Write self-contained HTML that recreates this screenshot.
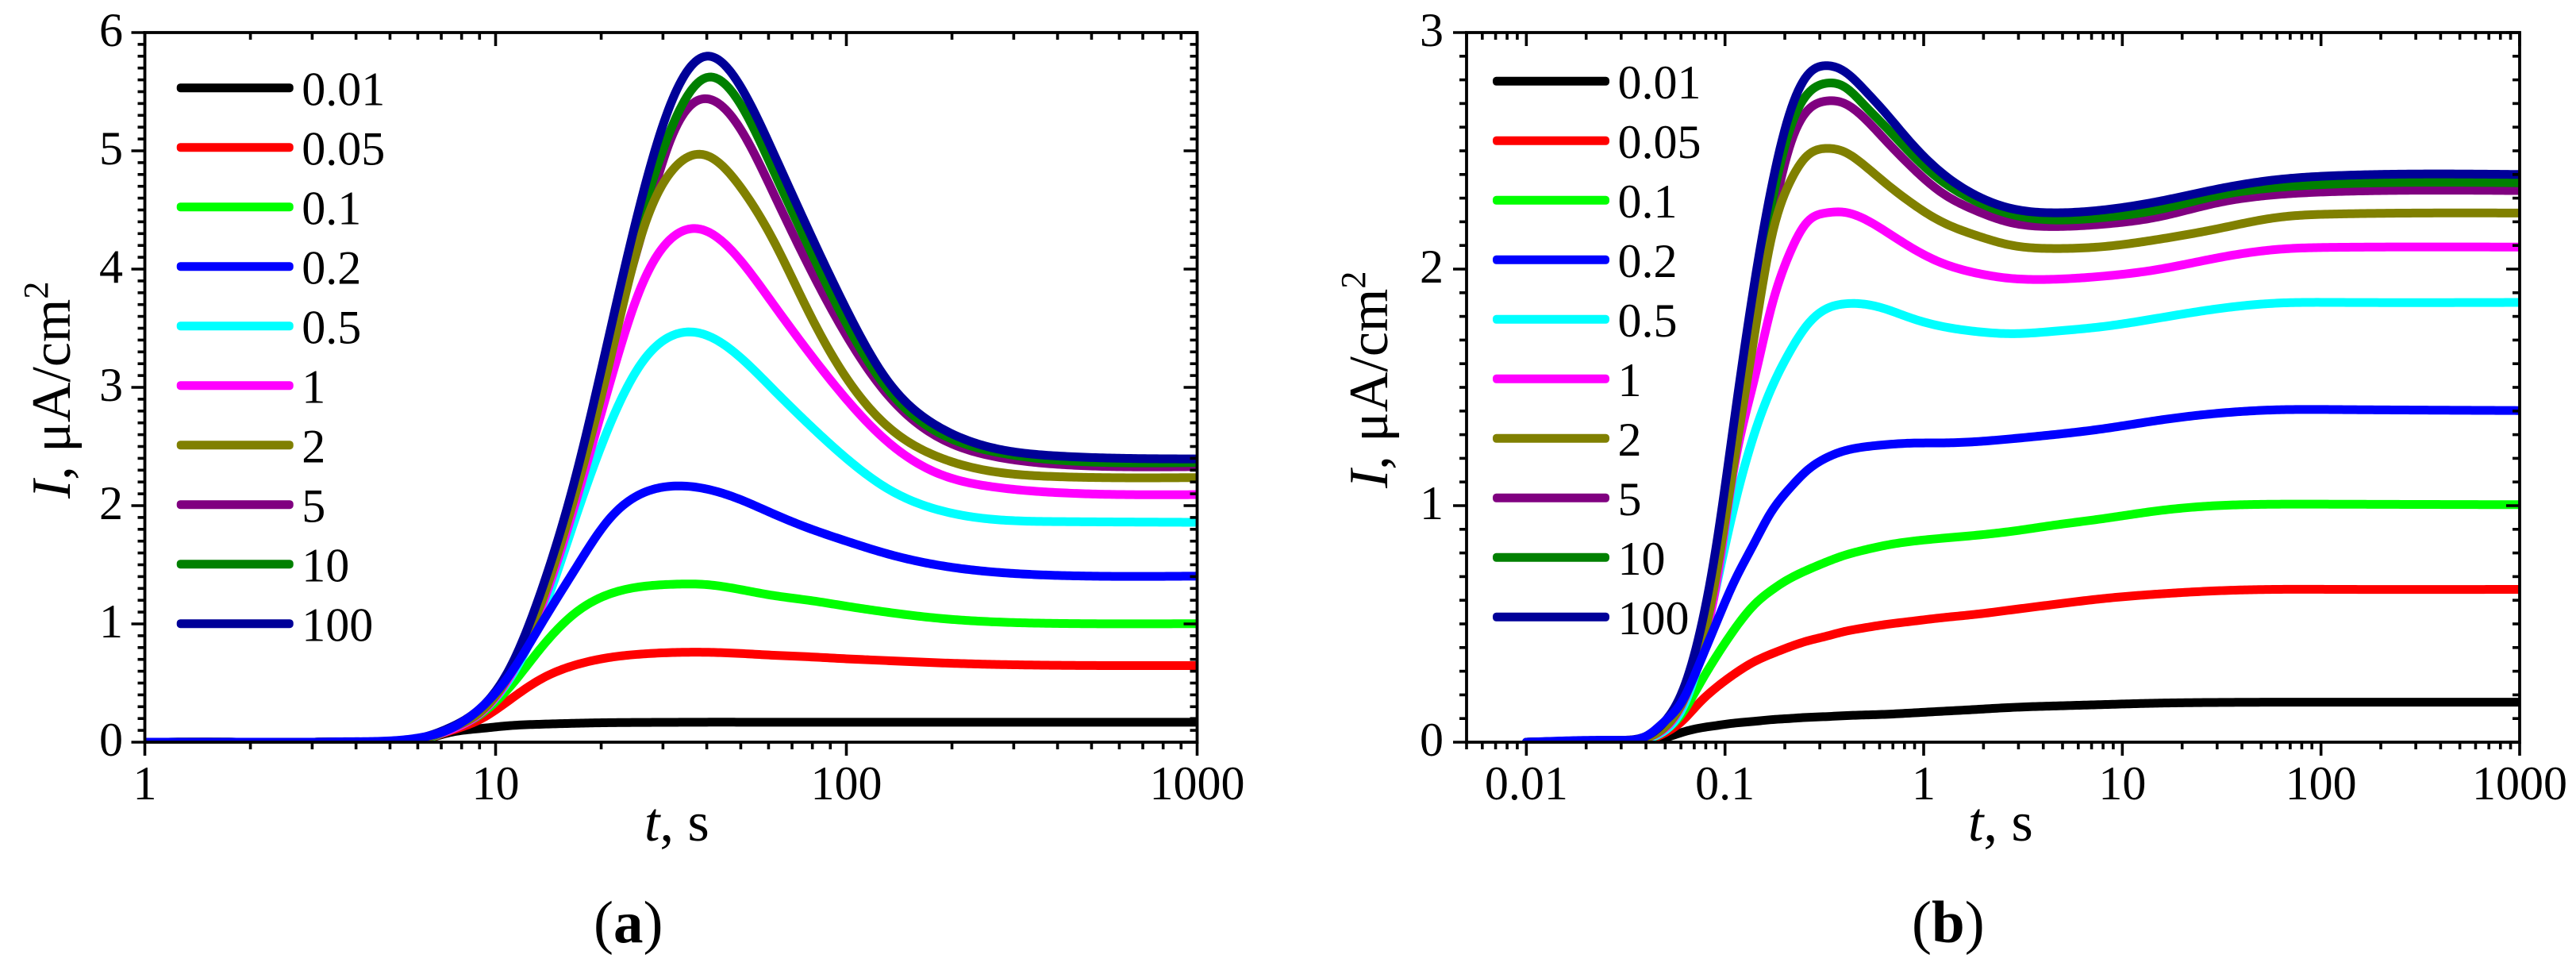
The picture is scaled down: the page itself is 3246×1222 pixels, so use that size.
<!DOCTYPE html>
<html lang="en">
<head>
<meta charset="utf-8">
<title>Current density transients</title>
<style>
html,body{margin:0;padding:0;background:#fff;}
svg{display:block;}
text{font-family:"Liberation Serif","Noto Serif CJK SC",serif;fill:#000;}
</style>
</head>
<body>
<svg id="figure" xmlns="http://www.w3.org/2000/svg" width="3246" height="1222" viewBox="0 0 3246 1222">
  <rect x="0" y="0" width="3246" height="1222" fill="#fff"/>
  <defs>
    <clipPath id="clip-a"><rect x="182.5" y="41" width="1326.5" height="894"/></clipPath>
    <clipPath id="clip-b"><rect x="1848" y="41" width="1327" height="894"/></clipPath>
  </defs>
  <g id="panel-a"></g>
  <g id="panel-b"></g>

  <text transform="translate(88,628) rotate(-90)" font-size="70"><tspan font-style="italic">I</tspan>, μA/cm<tspan font-size="44" dy="-28">2</tspan></text>
  <text x="812" y="1059" font-size="70"><tspan font-style="italic">t</tspan>, s</text>
  <text x="748" y="1187" font-size="75">(<tspan font-weight="bold">a</tspan>)</text>

  <text transform="translate(1748,615) rotate(-90)" font-size="70"><tspan font-style="italic">I</tspan>, μA/cm<tspan font-size="44" dy="-28">2</tspan></text>
  <text x="2480" y="1059" font-size="70"><tspan font-style="italic">t</tspan>, s</text>
  <text x="2409" y="1187" font-size="75">(<tspan font-weight="bold">b</tspan>)</text>
</svg>
<script>
// ---- shared legend ----
const legendLabels = ['0.01','0.05','0.1','0.2','0.5','1','2','5','10','100'];
const seriesColors = ['#000000','#ff0000','#00ff00','#0000ff','#00ffff','#ff00ff','#808000','#800080','#008000','#000098'];
// order the curves are stacked in (index into the legend)
const stackOrder = [0,1,2,4,5,7,8,6,9,3];

// ---- panel (a) data ----
const xTickValuesA = [1,10,100,1000];
const xTickLabelsA = ['1','10','100','1000'];
const yTickValuesA = [0,1,2,3,4,5,6];
const yTickLabelsA = ['0','1','2','3','4','5','6'];
const timeA = [1,2,3,4,6,7.5,9,11,13.5,17,21,26,32,40,50,62,78,100,130,180,260,400,1000];
const a001 = [0,0,0,0,.01,.085,.115,.14,.152,.16,.165,.167,.168,.169,.169,.169,.169,.169,.169,.169,.169,.169,.169];
const a005 = [0,0,0,0,.01,.10,.19,.36,.535,.655,.715,.745,.758,.76,.75,.735,.722,.705,.69,.672,.658,.65,.648];
const a01  = [0,0,0,0,.01,.11,.23,.47,.80,1.10,1.25,1.315,1.335,1.332,1.29,1.24,1.20,1.15,1.10,1.05,1.018,1.004,1.002];
const a02  = [0,0,0,.004,.035,.12,.28,.575,1.0,1.48,1.88,2.10,2.165,2.14,2.05,1.93,1.81,1.70,1.595,1.50,1.44,1.41,1.404];
const a05  = [0,0,0,0,.02,.11,.24,.54,1.07,1.92,2.66,3.2,3.44,3.44,3.25,2.98,2.69,2.40,2.15,1.97,1.885,1.865,1.859];
const a1   = [0,0,0,0,.02,.11,.24,.56,1.14,2.05,3.0,3.85,4.27,4.32,4.07,3.70,3.30,2.90,2.55,2.28,2.16,2.11,2.093];
const a2   = [0,0,0,0,.02,.12,.25,.58,1.18,2.13,3.18,4.28,4.84,4.96,4.69,4.24,3.64,3.08,2.68,2.42,2.29,2.245,2.237];
const a5   = [0,0,0,0,.02,.12,.26,.60,1.22,2.17,3.28,4.28,5.14,5.44,5.18,4.64,4.03,3.44,2.95,2.59,2.42,2.35,2.33];
const a10  = [0,0,0,0,.02,.12,.27,.61,1.25,2.22,3.34,4.42,5.22,5.62,5.39,4.83,4.19,3.54,3.0,2.63,2.46,2.385,2.365];
const a100 = [0,0,0,.004,.03,.13,.28,.63,1.28,2.27,3.42,4.58,5.44,5.80,5.54,4.98,4.33,3.66,3.07,2.68,2.49,2.42,2.395];
const seriesValuesA = [a001,a005,a01,a02,a05,a1,a2,a5,a10,a100];

// ---- panel (b) data ----
const xTickValuesB = [0.01,0.1,1,10,100,1000];
const xTickLabelsB = ['0.01','0.1','1','10','100','1000'];
const yTickValuesB = [0,1,2,3];
const yTickLabelsB = ['0','1','2','3'];
const timeB = [.01,.03,.04,.05,.06,.075,.09,.11,.14,.17,.21,.26,.32,.4,.5,.65,.85,1.2,1.8,2.8,4.5,8,15,30,60,120,1000];
const b001 = [0,0,0,.018,.04,.06,.07,.08,.088,.095,.10,.105,.108,.112,.115,.118,.123,.13,.138,.147,.153,.159,.165,.168,.169,.169,.169];
const b005 = [0,.003,.008,.04,.085,.17,.23,.285,.34,.372,.402,.428,.447,.468,.483,.498,.51,.525,.54,.56,.582,.607,.626,.64,.646,.646,.646];
const b01  = [0,.005,.012,.05,.115,.25,.36,.47,.58,.64,.69,.728,.76,.79,.812,.833,.848,.861,.874,.892,.917,.945,.978,1.0,1.006,1.006,1.004];
const b02  = [0,.008,.025,.09,.165,.34,.50,.67,.84,.97,1.07,1.15,1.2,1.232,1.248,1.258,1.264,1.265,1.27,1.283,1.30,1.325,1.36,1.39,1.405,1.406,1.402];
const b05  = [0,.006,.015,.05,.13,.36,.65,.98,1.30,1.49,1.645,1.765,1.83,1.853,1.852,1.83,1.795,1.76,1.737,1.727,1.737,1.757,1.792,1.832,1.856,1.859,1.859];
const b1   = [0,.007,.018,.06,.15,.37,.66,1.14,1.53,1.83,2.06,2.20,2.237,2.24,2.213,2.157,2.095,2.03,1.985,1.96,1.957,1.97,1.998,2.047,2.083,2.092,2.093];
const b2   = [0,.007,.018,.065,.155,.38,.70,1.16,1.71,2.12,2.36,2.48,2.51,2.495,2.44,2.36,2.285,2.205,2.145,2.10,2.087,2.095,2.125,2.17,2.218,2.233,2.237];
const b5   = [0,.008,.02,.07,.17,.40,.73,1.22,1.80,2.18,2.51,2.67,2.71,2.70,2.64,2.54,2.44,2.33,2.25,2.195,2.18,2.19,2.22,2.28,2.315,2.328,2.332];
const b10  = [0,.008,.022,.08,.18,.43,.77,1.27,1.87,2.26,2.58,2.74,2.785,2.77,2.695,2.597,2.494,2.38,2.29,2.23,2.208,2.218,2.25,2.31,2.345,2.36,2.365];
const b100 = [0,.008,.025,.09,.2,.47,.82,1.33,1.93,2.33,2.65,2.82,2.86,2.835,2.76,2.655,2.54,2.415,2.315,2.255,2.238,2.25,2.285,2.338,2.378,2.395,2.40];
const seriesValuesB = [b001,b005,b01,b02,b05,b1,b2,b5,b10,b100];

const NS = 'http://www.w3.org/2000/svg';
function make(tag, attrs){
  const n = document.createElementNS(NS, tag);
  for (const k in attrs) n.setAttribute(k, attrs[k]);
  return n;
}
// natural cubic spline through the read points, sampled into a polyline
function splinePath(xs, ys){
  const n = xs.length, h = [], m = new Array(n).fill(0), c = new Array(n).fill(0), d = new Array(n).fill(0);
  for (let i = 0; i < n - 1; i++) h[i] = xs[i+1] - xs[i];
  for (let i = 1; i < n - 1; i++){
    const a = h[i-1], b = 2 * (h[i-1] + h[i]), e = h[i];
    const r = 6 * ((ys[i+1] - ys[i]) / h[i] - (ys[i] - ys[i-1]) / h[i-1]);
    const w = b - a * c[i-1];
    c[i] = e / w;
    d[i] = (r - a * d[i-1]) / w;
  }
  for (let i = n - 2; i > 0; i--) m[i] = d[i] - c[i] * m[i+1];
  let out = 'M' + xs[0].toFixed(2) + ' ' + ys[0].toFixed(2);
  for (let i = 0; i < n - 1; i++){
    const steps = Math.max(2, Math.ceil(h[i] / 3));
    for (let s = 1; s <= steps; s++){
      const u = s / steps, A = 1 - u, B = u;
      const y = A * ys[i] + B * ys[i+1] + ((A*A*A - A) * m[i] + (B*B*B - B) * m[i+1]) * h[i] * h[i] / 6;
      out += 'L' + (xs[i] + u * h[i]).toFixed(2) + ' ' + y.toFixed(2);
    }
  }
  return out;
}

function renderPanel(cfg){
  const g = document.getElementById(cfg.id);
  const top = 41, bottom = 935;
  const lmin = Math.log10(cfg.xMin), lmax = Math.log10(cfg.xMax);
  const sx = t => cfg.x0 + (Math.log10(t) - lmin) / (lmax - lmin) * (cfg.x1 - cfg.x0);
  const sy = v => bottom - v / cfg.yMax * (bottom - top);

  // curves
  const curves = make('g', {'clip-path': 'url(#' + cfg.clip + ')', fill: 'none', 'stroke-width': 11, 'stroke-linejoin': 'round', 'stroke-linecap': 'round'});
  
  
  stackOrder.forEach(idx => {
    const vals = cfg.series[idx];
    const path = make('path', {d: splinePath(cfg.time.map(sx), vals.map(sy)), stroke: seriesColors[idx]});
    
    
    curves.appendChild(path);
  });
  g.appendChild(curves);

  // frame
  const frame = make('rect', {x: cfg.x0, y: top, width: cfg.x1 - cfg.x0, height: bottom - top, fill: 'none', stroke: '#000', 'stroke-width': 3.8});
  
  
  g.appendChild(frame);

  // x ticks (bottom outward, top inward)
  const ticks = make('g', {stroke: '#000', 'stroke-width': 3.6});
  
  
  const addTick = (x1, y1, x2, y2) => {
    const ln = make('line', {x1: x1, y1: y1, x2: x2, y2: y2});
    
    
    ticks.appendChild(ln);
  };
  for (let e = Math.floor(lmin); e < lmax; e++){
    for (let m = 1; m <= 9; m++){
      const t = m * Math.pow(10, e);
      if (t < cfg.xMin * 0.999 || t > cfg.xMax * 1.001) continue;
      const len = m === 1 ? 17 : 9;
      const x = sx(t);
      addTick(x, bottom, x, bottom + len);
      addTick(x, top, x, top + len);
    }
  }
  const xm = sx(cfg.xMax);
  addTick(xm, bottom, xm, bottom + 17);
  addTick(xm, top, xm, top + 17);

  // y ticks (left outward, right inward)
  const steps = Math.round(cfg.yMax * 10);
  for (let i = 0; i <= steps; i++){
    const v = i / 10, y = sy(v), len = i % 10 === 0 ? 17 : 9;
    addTick(cfg.x0 - len, y, cfg.x0, y);
    addTick(cfg.x1 - len, y, cfg.x1, y);
  }
  g.appendChild(ticks);

  // tick labels
  cfg.xTicks.forEach((t, i) => {
    const tx = make('text', {x: sx(t), y: 1007, 'font-size': 60, 'text-anchor': 'middle'});
    
    
    tx.textContent = cfg.xLabels[i];
    g.appendChild(tx);
  });
  cfg.yTicks.forEach((v, i) => {
    const tx = make('text', {x: cfg.yLabelX, y: sy(v) + 17, 'font-size': 60, 'text-anchor': 'end'});
    
    
    tx.textContent = cfg.yLabels[i];
    g.appendChild(tx);
  });

  // legend
  const legend = make('g', {});
  
  
  legendLabels.forEach((lab, i) => {
    const ly = cfg.legendY + i * 75;
    const entry = make('g', {});
    
    
    const key = make('rect', {x: cfg.legendX, y: ly - 5.5, width: 147, height: 11, rx: 4.5, ry: 4.5, fill: seriesColors[i]});
    
    
    const tx = make('text', {x: cfg.legendX + 157.5, y: ly + 21.6, 'font-size': 60});
    
    
    tx.textContent = lab;
    entry.appendChild(key);
    entry.appendChild(tx);
    legend.appendChild(entry);
  });
  g.appendChild(legend);
}

renderPanel({id:'panel-a', clip:'clip-a', x0:182.5, x1:1508.5, xMin:1, xMax:1000, yMax:6,
  time:timeA, series:seriesValuesA, xTicks:xTickValuesA, xLabels:xTickLabelsA, yTicks:yTickValuesA, yLabels:yTickLabelsA,
  yLabelX:155, legendX:222.7, legendY:110.7});
renderPanel({id:'panel-b', clip:'clip-b', x0:1848, x1:3175, xMin:0.005, xMax:1000, yMax:3,
  time:timeB, series:seriesValuesB, xTicks:xTickValuesB, xLabels:xTickLabelsB, yTicks:yTickValuesB, yLabels:yTickLabelsB,
  yLabelX:1819, legendX:1881, legendY:102.3});
</script>
</body>
</html>
